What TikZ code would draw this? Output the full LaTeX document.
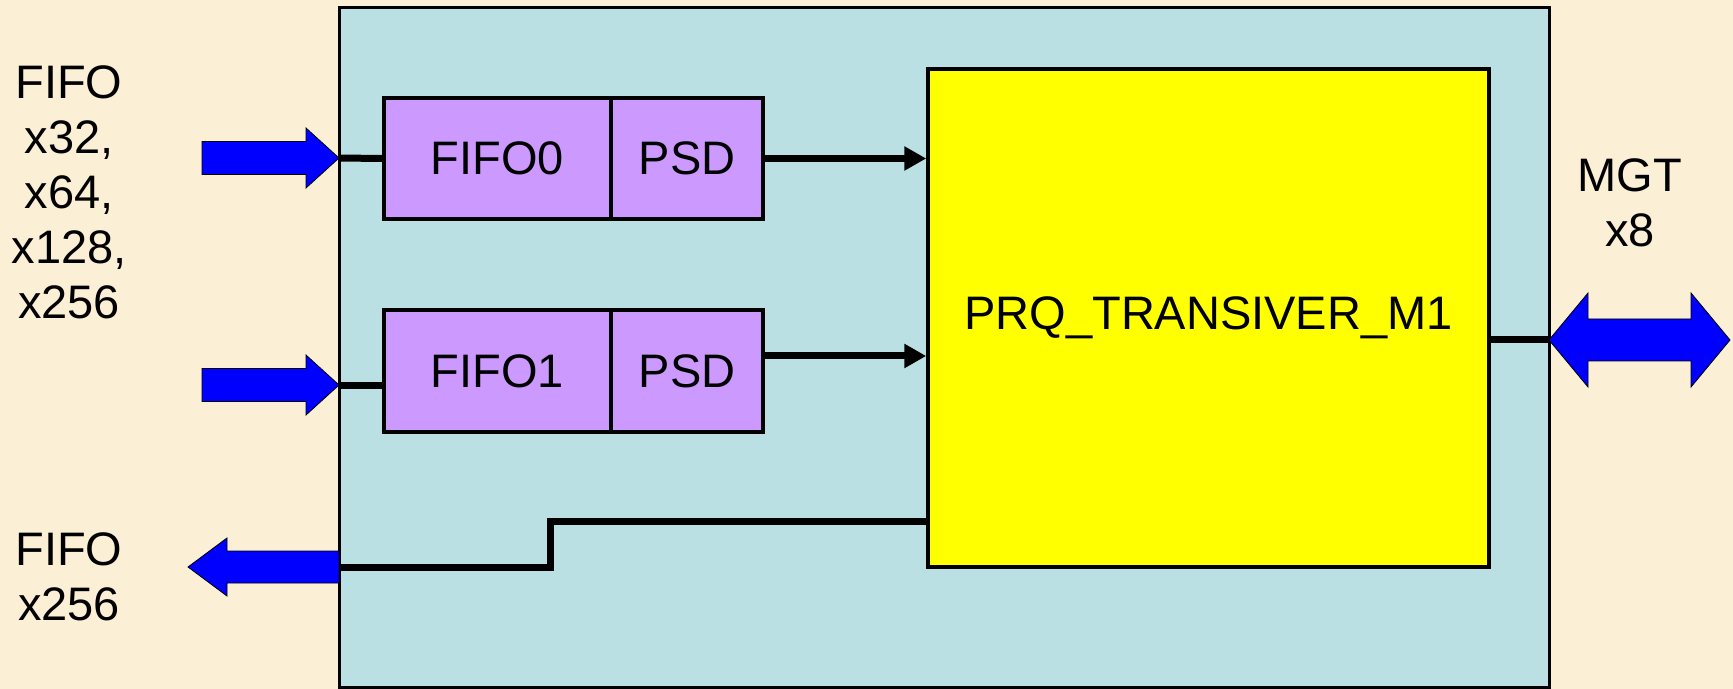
\documentclass[tikz,border=0pt]{standalone}
\usepackage{fontspec}
\setmainfont{Liberation Sans}
\usetikzlibrary{arrows.meta}

\definecolor{parchment}{HTML}{FBEFD6}
\definecolor{shellcyan}{HTML}{BBE0E3}
\definecolor{fifopurple}{HTML}{CC99FF}
\definecolor{coreyellow}{HTML}{FFFF00}
\definecolor{busblue}{HTML}{0000FF}

\tikzset{
  cell/.style={draw=black, line width=2pt, fill=fifopurple, minimum height=60.5pt, inner sep=0pt},
  wire/.style={draw=black, line width=3.5pt},
  blockarrow/.style={draw=black, line width=0.4pt, fill=busblue, line join=miter}
}

\begin{document}
\begin{tikzpicture}[x=0.5pt, y=-0.5pt, font=\fontsize{23.5}{27.5}\selectfont]
    % Background and outer shell
    \fill[parchment] (0,0) rectangle (1733,689);
    \useasboundingbox (0,0) rectangle (1733,689);
    \draw[fill=shellcyan, line width=1.5pt] (339,8) rectangle (1549,687);

    % FIFO + PSD cells
    \node[cell, minimum width=113.5pt] (fifo0) at (497.5,158.5) {FIFO0};
    \node[cell, minimum width=76pt] (psd0) at (687,158.5) {PSD};
    \node[cell, minimum width=113.5pt] (fifo1) at (497.5,371) {FIFO1};
    \node[cell, minimum width=76pt] (psd1) at (687,371) {PSD};

    % Transceiver core
    \node[draw=black, line width=1.75pt, fill=coreyellow, minimum width=280.5pt, minimum height=249pt] (core) at (1208.5,318) {PRQ\_TRANSIVER\_M1};

    % Port points on the shell
    \coordinate (in0) at (339,158);
    \coordinate (in1) at (339,385);
    \coordinate (out0) at (339,567);
    \coordinate (mgt) at (1549,340);

    % Inner wiring
    \draw[wire] (in0) -- (fifo0.west);
    \draw[wire] (in1) -- (in1 -| fifo1.west);
    \draw[wire, -{Triangle[length=11pt,width=11.5pt]}] (psd0.east) -- (psd0.east -| core.west);
    \draw[wire, -{Triangle[length=11pt,width=11.5pt]}] ([yshift=7.5pt]psd1.east) -- ([yshift=7.5pt]psd1.east -| core.west);
    \draw[wire] (core.west |- 0,521) -- (550,521) -- (550,567) -- (out0);
    \draw[wire] (core.east |- mgt) -- (mgt);

    % Block arrows
    \draw[blockarrow] (in0) -- ++(-33,-30) -- ++(0,13.5) -- ++(-104,0) -- ++(0,33) -- ++(104,0) -- ++(0,13.5) -- cycle;
    \draw[blockarrow] (in1) -- ++(-33,-30) -- ++(0,13.5) -- ++(-104,0) -- ++(0,33) -- ++(104,0) -- ++(0,13.5) -- cycle;
    \draw[blockarrow] (out0) -- ++(0,-16) -- ++(-112,0) -- ++(0,-13) -- ++(-39,29) -- ++(39,29) -- ++(0,-13) -- ++(112,0) -- cycle;
    \draw[blockarrow] (mgt) -- ++(39,-47) -- ++(0,26) -- ++(103,0) -- ++(0,-26) -- ++(39,47) -- ++(-39,47) -- ++(0,-26) -- ++(-103,0) -- ++(0,26) -- cycle;

    % Labels
    \node[align=center] (inlabel) at (69,192) {FIFO\\x32,\\x64,\\x128,\\x256};
    \node[align=center] (outlabel) at (69,577) {FIFO\\x256};
    \node[align=center] (mgtlabel) at (1630,203) {MGT\\x8};
\end{tikzpicture}
\end{document}
